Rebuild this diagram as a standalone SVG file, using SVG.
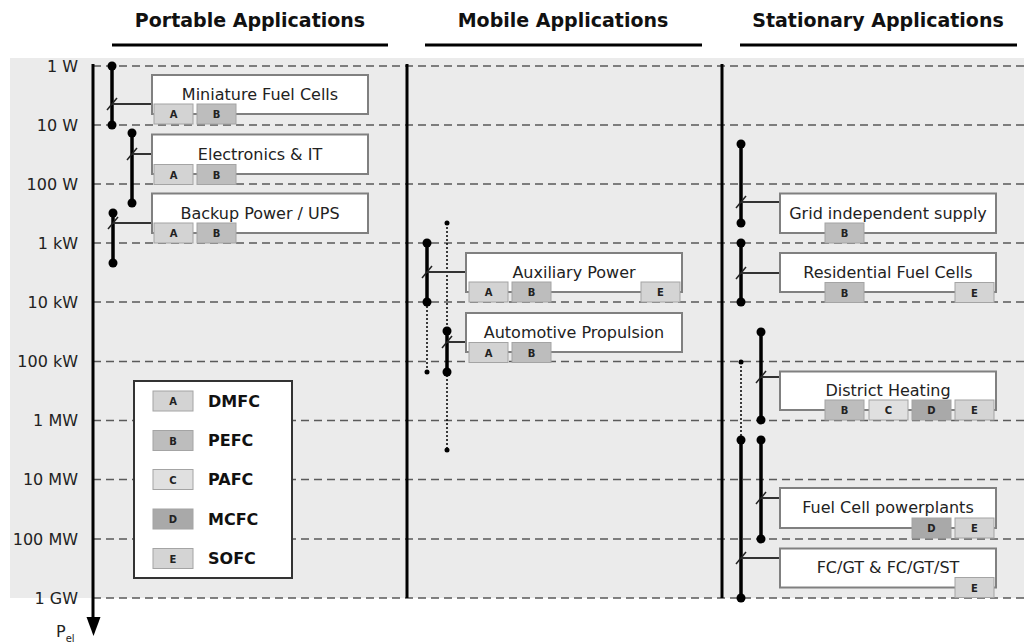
<svg xmlns="http://www.w3.org/2000/svg" width="1024" height="644" viewBox="0 0 1024 644">
<style>
text{font-family:"DejaVu Sans",Verdana,sans-serif;fill:#222}
.h{font-size:19px;font-weight:bold;text-anchor:middle;fill:#111}
.tick{font-size:16px;text-anchor:end}
.lbl{font-size:16px;text-anchor:middle}
.grid{stroke:#5a5a5a;stroke-width:1.5;stroke-dasharray:8 5;fill:none}
.box{fill:#fff;stroke:#808080;stroke-width:2}
.chip{stroke:#a4a4a4;stroke-width:1}
.ca{fill:#d3d3d3}.cb{fill:#bdbdbd}.cc{fill:#e0e0e0}.cd{fill:#a9a9a9}.ce{fill:#d4d4d4}
.cl{font-size:10px;font-weight:bold;text-anchor:middle;fill:#222}
.leg{font-size:16px;font-weight:bold;fill:#111}
.bar{stroke:#000;stroke-width:3.5;fill:none}
.conn{stroke:#333;stroke-width:2;fill:none}
.slash{stroke:#222;stroke-width:1.5;fill:none}
.dotl{stroke:#000;stroke-width:1.5;stroke-dasharray:2 2;fill:none}
.sep{stroke:#000;stroke-width:3;fill:none}
</style>
<rect x="10" y="58" width="1014" height="540" fill="#ebebeb"/>
<g id="headers">
<text class="h" x="250" y="27">Portable Applications</text>
<text class="h" x="563" y="27">Mobile Applications</text>
<text class="h" x="878" y="27">Stationary Applications</text>
<line class="sep" x1="112" y1="45" x2="388" y2="45"/>
<line class="sep" x1="425" y1="45" x2="702" y2="45"/>
<line class="sep" x1="740" y1="45" x2="1017" y2="45"/>
</g>
<g id="grid">
<line class="grid" x1="93" y1="66" x2="1024" y2="66"/>
<line class="grid" x1="93" y1="125" x2="1024" y2="125"/>
<line class="grid" x1="93" y1="184" x2="1024" y2="184"/>
<line class="grid" x1="93" y1="243" x2="1024" y2="243"/>
<line class="grid" x1="93" y1="302" x2="1024" y2="302"/>
<line class="grid" x1="93" y1="361.5" x2="1024" y2="361.5"/>
<line class="grid" x1="93" y1="420.5" x2="1024" y2="420.5"/>
<line class="grid" x1="93" y1="479.5" x2="1024" y2="479.5"/>
<line class="grid" x1="93" y1="539" x2="1024" y2="539"/>
<line class="grid" x1="93" y1="598" x2="1024" y2="598"/>
<text class="tick" x="78" y="71.5">1 W</text>
<text class="tick" x="78" y="130.5">10 W</text>
<text class="tick" x="78" y="189.5">100 W</text>
<text class="tick" x="78" y="248.5">1 kW</text>
<text class="tick" x="78" y="307.5">10 kW</text>
<text class="tick" x="78" y="367">100 kW</text>
<text class="tick" x="78" y="426">1 MW</text>
<text class="tick" x="78" y="485">10 MW</text>
<text class="tick" x="78" y="544.5">100 MW</text>
<text class="tick" x="78" y="603.5">1 GW</text>
</g>
<g id="axis">
<line class="sep" x1="93" y1="64" x2="93" y2="620"/>
<polygon points="86.5,617 100.5,617 93.5,636" fill="#000"/>
<text x="56" y="637" font-size="16">P<tspan font-size="10" dy="5">el</tspan></text>
<line class="sep" x1="407" y1="64" x2="407" y2="598"/>
<line class="sep" x1="722" y1="64" x2="722" y2="598"/>
</g>
<g id="connectors">
<line class="bar" x1="112" y1="66" x2="112" y2="125"/><circle cx="112" cy="66" r="4.5"/><circle cx="112" cy="125" r="4.5"/>
<line class="conn" x1="112" y1="104" x2="152" y2="104"/><line class="slash" x1="107" y1="110" x2="117" y2="98"/>
<line class="bar" x1="132" y1="133" x2="132" y2="203"/><circle cx="132" cy="133" r="4.5"/><circle cx="132" cy="203" r="4.5"/>
<line class="conn" x1="132" y1="154" x2="152" y2="154"/><line class="slash" x1="127" y1="160" x2="137" y2="148"/>
<line class="bar" x1="113" y1="213" x2="113" y2="263"/><circle cx="113" cy="213" r="4.5"/><circle cx="113" cy="263" r="4.5"/>
<line class="conn" x1="113" y1="223" x2="152" y2="223"/><line class="slash" x1="108" y1="229" x2="118" y2="217"/>
<line class="dotl" x1="427" y1="302" x2="427" y2="372"/><circle cx="427" cy="372" r="2.5"/>
<line class="dotl" x1="447" y1="223" x2="447" y2="450"/><circle cx="447" cy="223" r="2.5"/><circle cx="447" cy="450" r="2.5"/>
<line class="bar" x1="427" y1="243" x2="427" y2="302"/><circle cx="427" cy="243" r="4.5"/><circle cx="427" cy="302" r="4.5"/>
<line class="conn" x1="427" y1="272" x2="466" y2="272"/><line class="slash" x1="422" y1="278" x2="432" y2="266"/>
<line class="bar" x1="447" y1="331" x2="447" y2="372"/><circle cx="447" cy="331" r="4.5"/><circle cx="447" cy="372" r="4.5"/>
<line class="conn" x1="447" y1="342" x2="466" y2="342"/><line class="slash" x1="442" y1="348" x2="452" y2="336"/>
<line class="bar" x1="741" y1="144" x2="741" y2="223"/><circle cx="741" cy="144" r="4.5"/><circle cx="741" cy="223" r="4.5"/>
<line class="conn" x1="741" y1="202" x2="780" y2="202"/><line class="slash" x1="736" y1="208" x2="746" y2="196"/>
<line class="bar" x1="741" y1="243" x2="741" y2="302"/><circle cx="741" cy="243" r="4.5"/><circle cx="741" cy="302" r="4.5"/>
<line class="conn" x1="741" y1="273" x2="780" y2="273"/><line class="slash" x1="736" y1="279" x2="746" y2="267"/>
<line class="bar" x1="761" y1="332" x2="761" y2="420"/><circle cx="761" cy="332" r="4.5"/><circle cx="761" cy="420" r="4.5"/>
<line class="conn" x1="761" y1="377" x2="780" y2="377"/><line class="slash" x1="756" y1="383" x2="766" y2="371"/>
<line class="dotl" x1="741" y1="362" x2="741" y2="440"/><circle cx="741" cy="362" r="2.5"/>
<line class="bar" x1="761" y1="440" x2="761" y2="539"/><circle cx="761" cy="440" r="4.5"/><circle cx="761" cy="539" r="4.5"/>
<line class="conn" x1="761" y1="498" x2="780" y2="498"/><line class="slash" x1="756" y1="504" x2="766" y2="492"/>
<line class="bar" x1="741" y1="440" x2="741" y2="598"/><circle cx="741" cy="440" r="4.5"/><circle cx="741" cy="598" r="4.5"/>
<line class="conn" x1="741" y1="558" x2="780" y2="558"/><line class="slash" x1="736" y1="564" x2="746" y2="552"/>
</g>
<g id="miniature">
<rect class="box" x="152" y="75" width="216" height="39"/>
<text class="lbl" x="260" y="99.5">Miniature Fuel Cells</text>
<rect class="chip ca" x="154" y="104" width="39" height="20"/><text class="cl" x="173.5" y="118">A</text>
<rect class="chip cb" x="197" y="104" width="39" height="20"/><text class="cl" x="216.5" y="118">B</text>
</g>
<g id="electronics">
<rect class="box" x="152" y="134.5" width="216" height="39.5"/>
<text class="lbl" x="260" y="159.5">Electronics &amp; IT</text>
<rect class="chip ca" x="154" y="164.5" width="39" height="20"/><text class="cl" x="173.5" y="178.5">A</text>
<rect class="chip cb" x="197" y="164.5" width="39" height="20"/><text class="cl" x="216.5" y="178.5">B</text>
</g>
<g id="backup">
<rect class="box" x="152" y="193.5" width="216" height="39.5"/>
<text class="lbl" x="260" y="218.5">Backup Power / UPS</text>
<rect class="chip ca" x="154" y="223" width="39" height="20"/><text class="cl" x="173.5" y="237">A</text>
<rect class="chip cb" x="197" y="223" width="39" height="20"/><text class="cl" x="216.5" y="237">B</text>
</g>
<g id="auxiliary">
<rect class="box" x="466" y="253" width="216" height="39"/>
<text class="lbl" x="574" y="277.5">Auxiliary Power</text>
<rect class="chip ca" x="469" y="282" width="39" height="20"/><text class="cl" x="488.5" y="296">A</text>
<rect class="chip cb" x="512" y="282" width="39" height="20"/><text class="cl" x="531.5" y="296">B</text>
<rect class="chip ce" x="641" y="282" width="39" height="20"/><text class="cl" x="660.5" y="296">E</text>
</g>
<g id="automotive">
<rect class="box" x="466" y="313" width="216" height="39"/>
<text class="lbl" x="574" y="337.5">Automotive Propulsion</text>
<rect class="chip ca" x="469" y="342.5" width="39" height="20"/><text class="cl" x="488.5" y="356.5">A</text>
<rect class="chip cb" x="512" y="342.5" width="39" height="20"/><text class="cl" x="531.5" y="356.5">B</text>
</g>
<g id="grid-independent">
<rect class="box" x="780" y="193.5" width="216" height="39.5"/>
<text class="lbl" x="888" y="218.5">Grid independent supply</text>
<rect class="chip cb" x="825" y="223" width="39" height="20"/><text class="cl" x="844.5" y="237">B</text>
</g>
<g id="residential">
<rect class="box" x="780" y="253" width="216" height="39"/>
<text class="lbl" x="888" y="277.5">Residential Fuel Cells</text>
<rect class="chip cb" x="825" y="282.5" width="39" height="20"/><text class="cl" x="844.5" y="296.5">B</text>
<rect class="chip ce" x="955" y="282.5" width="39" height="20"/><text class="cl" x="974.5" y="296.5">E</text>
</g>
<g id="district">
<rect class="box" x="780" y="371.5" width="216" height="38.5"/>
<text class="lbl" x="888" y="395.5">District Heating</text>
<rect class="chip cb" x="825" y="400" width="39" height="20"/><text class="cl" x="844.5" y="414">B</text>
<rect class="chip cc" x="869" y="400" width="39" height="20"/><text class="cl" x="888.5" y="414">C</text>
<rect class="chip cd" x="912" y="400" width="39" height="20"/><text class="cl" x="931.5" y="414">D</text>
<rect class="chip ce" x="955" y="400" width="39" height="20"/><text class="cl" x="974.5" y="414">E</text>
</g>
<g id="powerplants">
<rect class="box" x="780" y="488" width="216" height="40"/>
<text class="lbl" x="888" y="512.5">Fuel Cell powerplants</text>
<rect class="chip cd" x="912" y="518" width="39" height="20"/><text class="cl" x="931.5" y="532">D</text>
<rect class="chip ce" x="955" y="518" width="39" height="20"/><text class="cl" x="974.5" y="532">E</text>
</g>
<g id="fcgt">
<rect class="box" x="780" y="548.5" width="216" height="39"/>
<text class="lbl" x="888" y="572.5">FC/GT &amp; FC/GT/ST</text>
<rect class="chip ce" x="955" y="577.5" width="39" height="20"/><text class="cl" x="974.5" y="591.5">E</text>
</g>
<g id="legend">
<rect x="134" y="381" width="158" height="197" fill="#fff" stroke="#333" stroke-width="2"/>
<rect class="chip ca" x="153" y="391" width="40" height="20"/><text class="cl" x="173" y="405">A</text><text class="leg" x="208" y="406.5">DMFC</text>
<rect class="chip cb" x="153" y="430.5" width="40" height="20"/><text class="cl" x="173" y="444.5">B</text><text class="leg" x="208" y="446">PEFC</text>
<rect class="chip cc" x="153" y="469.5" width="40" height="20"/><text class="cl" x="173" y="483.5">C</text><text class="leg" x="208" y="485">PAFC</text>
<rect class="chip cd" x="153" y="509" width="40" height="20"/><text class="cl" x="173" y="523">D</text><text class="leg" x="208" y="524.5">MCFC</text>
<rect class="chip ce" x="153" y="548.5" width="40" height="20"/><text class="cl" x="173" y="562.5">E</text><text class="leg" x="208" y="564">SOFC</text>
</g>
</svg>
